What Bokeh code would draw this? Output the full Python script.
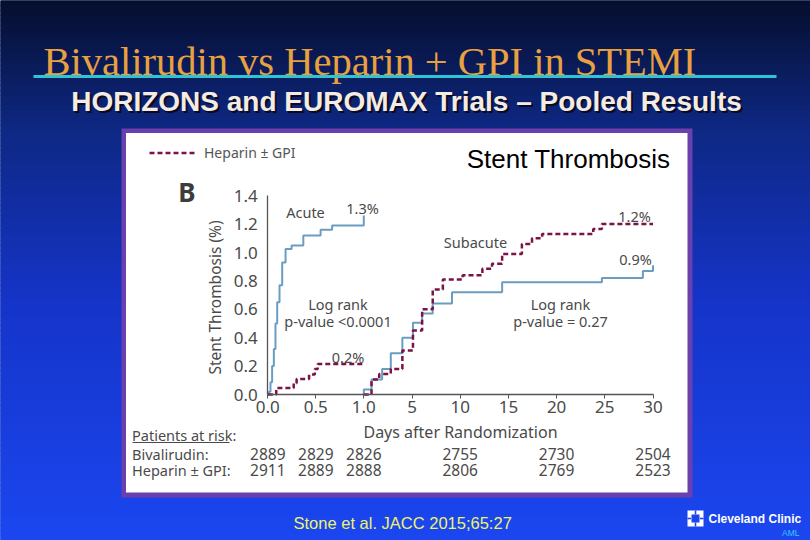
import numpy as np
from bokeh.plotting import figure
from bokeh.models import Range1d, LinearAxis, FixedTicker, PrintfTickFormatter
from bokeh.core.properties import value
from bokeh.embed import file_html
from bokeh.resources import INLINE

# ---------------- data ----------------
acute_ticks = [0.0, 0.5, 1.0]
sub_ticks = [5, 10, 15, 20, 25, 30]
y_ticks = [0.0, 0.2, 0.4, 0.6, 0.8, 1.0, 1.2, 1.4]

# Acute panel (day 0 - 1)
biv_acute_day = [0, 0.01, 0.028, 0.045, 0.063, 0.08, 0.098, 0.122, 0.15, 0.185, 0.248, 0.37, 0.55, 0.67, 1.0]
biv_acute_pct = [0, 0.02, 0.087, 0.20, 0.32, 0.50, 0.65, 0.77, 0.93, 1.025, 1.05, 1.12, 1.16, 1.19, 1.26]
hep_acute_day = [0, 0.088, 0.27, 0.30, 0.43, 0.49, 0.52, 1.0]
hep_acute_pct = [0, 0.045, 0.08, 0.11, 0.14, 0.18, 0.215, 0.215]

# Subacute panel (panel days 0 - 30)
biv_sub_day = [0, 0, 0.8, 1.9, 2.8, 4.0, 5.1, 6.05, 7.15, 9.15, 14.35, 24.7, 28.95, 30.0]
biv_sub_pct = [0, 0.035, 0.105, 0.18, 0.29, 0.40, 0.505, 0.57, 0.64, 0.72, 0.79, 0.82, 0.87, 0.91]
hep_sub_day = [0, 0.8, 1.6, 2.8, 4.0, 5.1, 6.05, 7.15, 8.2, 10.25, 12.3, 13.3, 14.35, 16.4, 17.45, 18.5, 23.8, 24.7, 30.0]
hep_sub_pct = [0, 0.105, 0.145, 0.18, 0.31, 0.45, 0.60, 0.74, 0.81, 0.84, 0.885, 0.92, 0.99, 1.06, 1.10, 1.13, 1.165, 1.20, 1.20]

# Patients at risk
risk_days_acute = [0.0, 0.5, 1.0]
risk_days_sub = [10, 20, 30]
biv_risk_acute = ["2889", "2829", "2826"]
biv_risk_sub = ["2755", "2730", "2504"]
hep_risk_acute = ["2911", "2889", "2888"]
hep_risk_sub = ["2806", "2769", "2523"]

# ---------------- layout ----------------
W, H = 810, 540
OFF = 0
AC_X0, AC_X1 = 267.3, 363.3      # px of acute day 0 / day 1
SB_X0, SB_X30 = 363.3, 652.5     # px of subacute 0 / 30
Y0_PX, Y14_PX = 394.0, 195.2     # px of 0.0 / 1.4 %

FONT = "Noto Sans"
GRAY = "#4a4a4a"
BLUE = "#6b9dc2"
MAROON = "#7b1446"


def px_range(v0, p0, v1, p1, lo_px, hi_px):
    k = (v1 - v0) / (p1 - p0)
    return Range1d(start=v0 + (lo_px - p0) * k, end=v0 + (hi_px - p0) * k)


p = figure(width=W, height=H, x_range=Range1d(OFF, OFF + W), y_range=Range1d(OFF + H, OFF),
           output_backend="svg", toolbar_location=None, x_axis_type=None, y_axis_type=None,
           min_border=0)
p.outline_line_color = None
p.background_fill_color = "#10298a"
p.border_fill_color = "#10298a"
p.extra_x_ranges = {"ac": px_range(0, AC_X0, 1, AC_X1, OFF, OFF + W),
                    "sb": px_range(0, SB_X0, 30, SB_X30, OFF, OFF + W)}
p.extra_y_ranges = {"cy": px_range(0, Y0_PX, 1.4, Y14_PX, OFF + H, OFF)}

# background gradient
stops_y = [0, 130, 300, 540]
stops_c = [(5, 14, 44), (14, 40, 132), (21, 52, 200), (27, 70, 240)]
n = 108
ys = np.linspace(0, 540, n + 1)
mids = (ys[:-1] + ys[1:]) / 2
cols = []
for m in mids:
    rgb = [int(round(np.interp(m, stops_y, [c[i] for c in stops_c]))) for i in range(3)]
    cols.append("#%02x%02x%02x" % tuple(rgb))
p.quad(left=0, right=810, top=ys[:-1], bottom=ys[1:], fill_color=cols, line_color=cols, line_width=1)

# title, rule, subtitle
p.text(x=[43], y=[61], text=["Bivalirudin vs Heparin + GPI in STEMI"], text_font=value("Liberation Serif"),
       text_font_size=value("40.5px"), text_color="#e8a040", text_baseline="alphabetic", text_align="left")
p.segment(x0=[33], y0=[76], x1=[776], y1=[76], line_color="#2cc5d5", line_width=3)
sub = "HORIZONS and EUROMAX Trials \u2013 Pooled Results"
p.text(x=[408], y=[103], text=[sub], text_font=value("Liberation Sans"), text_font_style="bold",
       text_font_size=value("28px"), text_color="#0a0a22", text_align="center", text_baseline="middle")
p.text(x=[406], y=[101], text=[sub], text_font=value("Liberation Sans"), text_font_style="bold",
       text_font_size=value("28px"), text_color="#f4ece2", text_align="center", text_baseline="middle")

# white panel with purple border
p.quad(left=121, right=692, top=128, bottom=497, fill_color="#6a3fae", line_color=None)
p.quad(left=125.5, right=687, top=132.5, bottom=492, fill_color="white", line_color=None)

# curves
p.step(biv_acute_day, biv_acute_pct, mode="after", x_range_name="ac", y_range_name="cy",
       line_color=BLUE, line_width=2)
p.step(hep_acute_day, hep_acute_pct, mode="after", x_range_name="ac", y_range_name="cy",
       line_color=MAROON, line_width=2.5, line_dash="5 3")
p.step(biv_sub_day, biv_sub_pct, mode="after", x_range_name="sb", y_range_name="cy",
       line_color=BLUE, line_width=2)
p.step(hep_sub_day, hep_sub_pct, mode="after", x_range_name="sb", y_range_name="cy",
       line_color=MAROON, line_width=2.5, line_dash="5 3")

# axes
def style_axis(ax):
    ax.axis_line_color = "#555555"
    ax.axis_line_width = 1.3
    ax.major_tick_line_color = "#555555"
    ax.minor_tick_line_color = None
    ax.major_label_text_font = FONT
    ax.major_label_text_font_size = "17px"
    ax.major_label_text_color = GRAY

yax = LinearAxis(x_range_name="ac", y_range_name="cy", fixed_location=0, bounds=(0, 1.4),
                 ticker=FixedTicker(ticks=y_ticks), formatter=PrintfTickFormatter(format="%.1f"))
style_axis(yax)
yax.major_tick_out = 0
yax.major_tick_in = 0
yax.major_label_standoff = 10
p.add_layout(yax, "left")

xax1 = LinearAxis(x_range_name="ac", y_range_name="cy", fixed_location=0, bounds=(0, 1.0),
                  ticker=FixedTicker(ticks=acute_ticks), formatter=PrintfTickFormatter(format="%.1f"))
style_axis(xax1)
xax1.major_tick_out = 4
xax1.major_tick_in = 0
xax1.major_label_standoff = 2
p.add_layout(xax1, "below")

xax2 = LinearAxis(x_range_name="sb", y_range_name="cy", fixed_location=0, bounds=(0, 30),
                  ticker=FixedTicker(ticks=sub_ticks))
style_axis(xax2)
xax2.major_tick_out = 4
xax2.major_tick_in = 0
xax2.major_label_standoff = 2
p.add_layout(xax2, "below")

# axis titles
p.text(x=[214], y=[297], text=["Stent Thrombosis (%)"], angle=np.pi / 2, text_font=value(FONT),
       text_font_size=value("15.5px"), text_color=GRAY, text_align="center", text_baseline="middle")
p.text(x=[460], y=[431], text=["Days after Randomization"], text_font=value(FONT),
       text_font_size=value("16px"), text_color=GRAY, text_align="center", text_baseline="middle")

# legend, panel letter, heading
p.segment(x0=[149], y0=[152.5], x1=[195], y1=[152.5], line_color=MAROON, line_width=2.5, line_dash="5 3")
p.text(x=[203.5], y=[152], text=["Heparin \u00b1 GPI"], text_font=value(FONT), text_font_size=value("14px"),
       text_color="#555555", text_align="left", text_baseline="middle")
p.text(x=[186.5], y=[191], text=["B"], text_font=value(FONT), text_font_style="bold",
       text_font_size=value("26px"), text_color="#3c3c3c", text_align="center", text_baseline="middle")
p.text(x=[670], y=[158], text=["Stent Thrombosis"], text_font=value("Liberation Sans"),
       text_font_size=value("26px"), text_color="black", text_align="right", text_baseline="middle")

# in-chart annotations
ann_x = [305, 362, 337.5, 337.5, 347.5, 475, 634, 635, 560, 560]
ann_y = [211, 207, 303.7, 320.3, 356.7, 241.3, 215.7, 258.3, 303.7, 320.3]
ann_t = ["Acute", "1.3%", "Log rank", "p-value <0.0001", "0.2%", "Subacute", "1.2%", "0.9%",
         "Log rank", "p-value = 0.27"]
p.text(x=ann_x, y=ann_y, text=ann_t, text_font=value(FONT), text_font_size=value("14.5px"),
       text_color=GRAY, text_align="center", text_baseline="middle")

# patients at risk
p.text(x=[131.5], y=[434], text=["Patients at risk:"], text_font=value(FONT), text_font_size=value("14.5px"),
       text_color=GRAY, text_align="left", text_baseline="middle")
p.segment(x0=[132], y0=[442], x1=[229], y1=[442], line_color=GRAY, line_width=1)
p.text(x=[131.5, 131.5], y=[453, 469], text=["Bivalirudin:", "Heparin \u00b1 GPI:"], text_font=value(FONT),
       text_font_size=value("14.5px"), text_color=GRAY, text_align="left", text_baseline="middle")
for row_y, a_vals, s_vals in [(453, biv_risk_acute, biv_risk_sub), (469, hep_risk_acute, hep_risk_sub)]:
    p.text(x=risk_days_acute, y=[row_y] * 3, text=a_vals, x_range_name="ac", text_font=value(FONT),
           text_font_size=value("15.5px"), text_color=GRAY, text_align="center", text_baseline="middle")
    p.text(x=risk_days_sub, y=[row_y] * 3, text=s_vals, x_range_name="sb", text_font=value(FONT),
           text_font_size=value("15.5px"), text_color=GRAY, text_align="center", text_baseline="middle")

# footer
p.text(x=[293], y=[522], text=["Stone et al.  JACC 2015;65:27"], text_font=value("Liberation Sans"),
       text_font_size=value("16.5px"), text_color="#eef46a", text_align="left", text_baseline="middle")

# Cleveland Clinic mark
p.quad(left=687, right=703, top=510, bottom=526, fill_color="white", line_color=None)
p.quad(left=[691, 694.2, 694.2, 687, 699.5], right=[699, 695.8, 695.8, 690.5, 703],
       top=[514, 510, 522, 517.2, 517.2], bottom=[522, 514, 526, 518.8, 518.8],
       fill_color="#1b45ec", line_color=None)
p.text(x=[708], y=[518], text=["Cleveland Clinic"], text_font=value("Liberation Sans"), text_font_style="bold",
       text_font_size=value("12px"), text_color="white", text_align="left", text_baseline="middle")
p.text(x=[799], y=[532], text=["AML"], text_font=value("Liberation Sans"),
       text_font_size=value("8.5px"), text_color="#3cc8ff", text_align="right", text_baseline="middle")

open("out.html", "w").write(file_html(p, INLINE))
